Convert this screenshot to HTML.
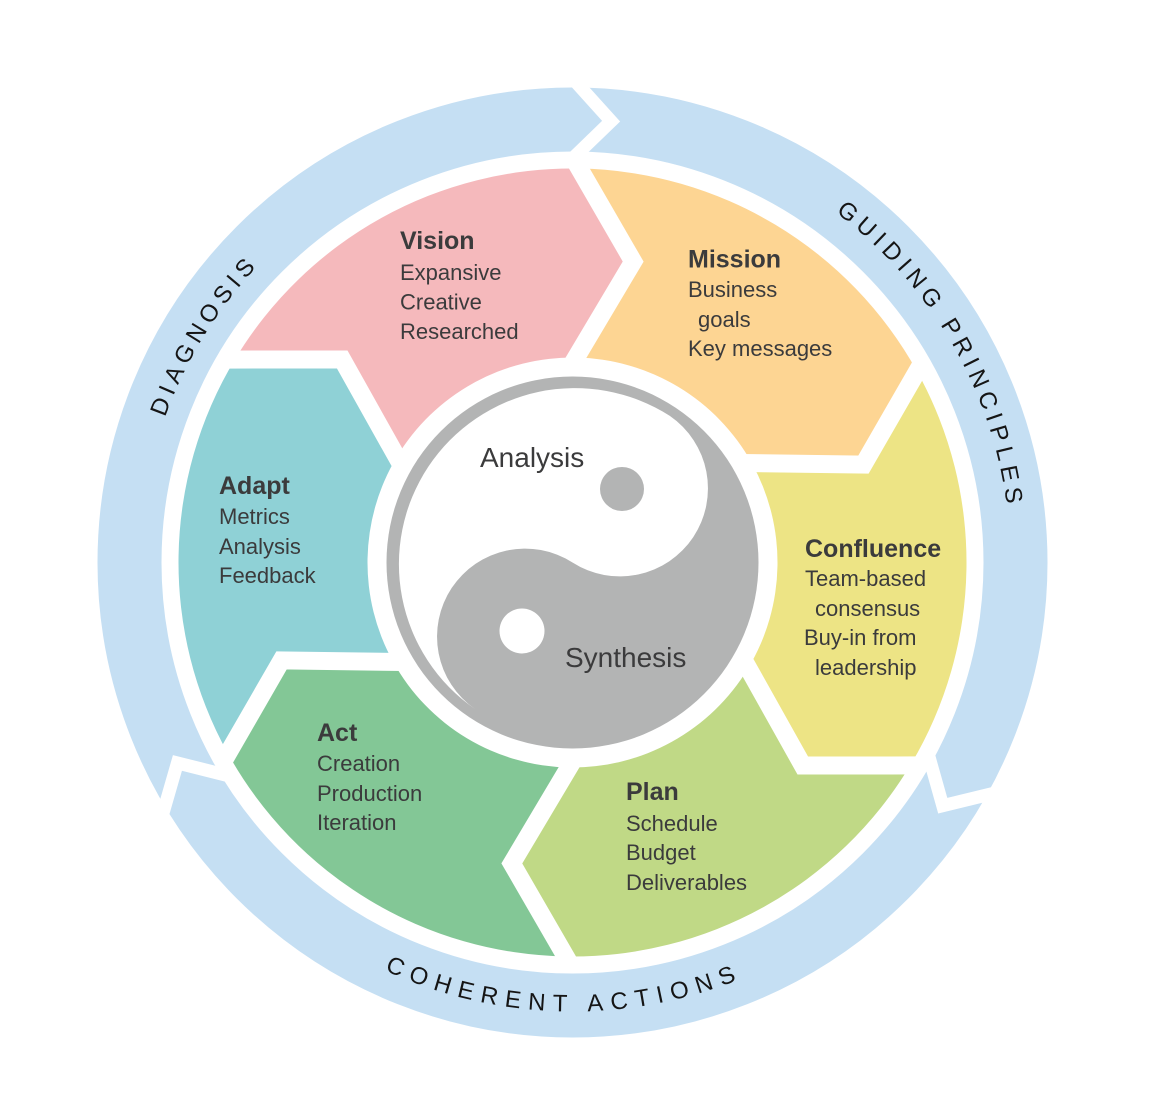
<!DOCTYPE html>
<html>
<head>
<meta charset="utf-8">
<style>
  html,body{margin:0;padding:0;background:#fff;}
  svg{display:block;}
  .t{font-family:"Liberation Sans",Arial,sans-serif;fill:#3b3b3c;}
  .h{font-weight:bold;font-size:25px;}
  .b{font-size:22px;}
  .r{font-family:"Liberation Sans",Arial,sans-serif;font-size:24px;fill:#151515;}
</style>
</head>
<body>
<svg width="1174" height="1096" viewBox="0 0 1174 1096" xmlns="http://www.w3.org/2000/svg">
  <rect width="1174" height="1096" fill="#ffffff"/>
  <defs>
    <path id="pDiag" d="M191.88 767.92 A432.5 432.5 0 0 1 584.95 130.18"/>
    <path id="pGuide" d="M572.5 124.5 A438 438 0 0 1 951.82 781.5"/>
    <path id="pCoh" d="M179.23 779.16 A449 449 0 0 0 956.76 794.76"/>
  </defs>

  <!-- outer ring -->
  <circle cx="572.5" cy="562.5" r="443" fill="none" stroke="#c5dff3" stroke-width="64"/>
  <g fill="none" stroke="#ffffff" stroke-width="13" stroke-linejoin="miter" stroke-miterlimit="10">
    <polyline points="570.74,76.43 611.11,121.19 573.92,157.12"/>
    <polyline points="570.74,76.43 611.11,121.19 573.92,157.12" transform="rotate(118.3 572.5 562.5)"/>
    <polyline points="570.74,76.43 611.11,121.19 573.92,157.12" transform="rotate(238.1 572.5 562.5)"/>
  </g>

  <!-- ring labels -->
  <text class="r" letter-spacing="5.4"><textPath href="#pDiag" startOffset="50%" text-anchor="middle">DIAGNOSIS</textPath></text>
  <text class="r" letter-spacing="5.6"><textPath href="#pGuide" startOffset="50%" text-anchor="middle">GUIDING PRINCIPLES</textPath></text>
  <text class="r" letter-spacing="7.7"><textPath href="#pCoh" startOffset="50%" text-anchor="middle">COHERENT ACTIONS</textPath></text>

  <!-- segments -->
  <g>
    <path fill="#fdd593" d="M579.38 168.56 A394 394 0 0 1 917.10 371.49 L863.46 464.58 L751.80 463.11 A205 205 0 0 0 576.08 357.53 L633.18 261.56 Z"/>
    <path fill="#ede485" transform="rotate(60 572.5 562.5)" d="M579.38 168.56 A394 394 0 0 1 917.10 371.49 L863.46 464.58 L751.80 463.11 A205 205 0 0 0 576.08 357.53 L633.18 261.56 Z"/>
    <path fill="#c0d986" transform="rotate(120 572.5 562.5)" d="M579.38 168.56 A394 394 0 0 1 917.10 371.49 L863.46 464.58 L751.80 463.11 A205 205 0 0 0 576.08 357.53 L633.18 261.56 Z"/>
    <path fill="#83c796" transform="rotate(180 572.5 562.5)" d="M579.38 168.56 A394 394 0 0 1 917.10 371.49 L863.46 464.58 L751.80 463.11 A205 205 0 0 0 576.08 357.53 L633.18 261.56 Z"/>
    <path fill="#8fd1d6" transform="rotate(240 572.5 562.5)" d="M579.38 168.56 A394 394 0 0 1 917.10 371.49 L863.46 464.58 L751.80 463.11 A205 205 0 0 0 576.08 357.53 L633.18 261.56 Z"/>
    <path fill="#f5b9bc" transform="rotate(300 572.5 562.5)" d="M579.38 168.56 A394 394 0 0 1 917.10 371.49 L863.46 464.58 L751.80 463.11 A205 205 0 0 0 576.08 357.53 L633.18 261.56 Z"/>
  </g>
  <g fill="none" stroke="#ffffff" stroke-width="18" stroke-linejoin="miter" stroke-miterlimit="10">
    <polyline points="573.37,158.17 633.18,261.56 570.97,366.12"/>
    <polyline points="573.37,158.17 633.18,261.56 570.97,366.12" transform="rotate(60 572.5 562.5)"/>
    <polyline points="573.37,158.17 633.18,261.56 570.97,366.12" transform="rotate(120 572.5 562.5)"/>
    <polyline points="573.37,158.17 633.18,261.56 570.97,366.12" transform="rotate(180 572.5 562.5)"/>
    <polyline points="573.37,158.17 633.18,261.56 570.97,366.12" transform="rotate(240 572.5 562.5)"/>
    <polyline points="573.37,158.17 633.18,261.56 570.97,366.12" transform="rotate(300 572.5 562.5)"/>
  </g>

  <!-- yin yang -->
  <circle cx="572.5" cy="562.5" r="186" fill="#b3b4b4"/>
  <path fill="#ffffff" d="M669.83 415.89 A176 176 0 0 0 475.17 709.11 A88 88 0 0 1 572.5 562.5 A88 88 0 0 0 669.83 415.89 Z"/>
  <circle cx="622" cy="489" r="22" fill="#b3b4b4"/>
  <circle cx="522" cy="631" r="22.5" fill="#ffffff"/>
  <text class="t" x="480" y="467" font-size="28">Analysis</text>
  <text class="t" x="565" y="667" font-size="28">Synthesis</text>

  <!-- Vision -->
  <text class="t h" x="400" y="249">Vision</text>
  <text class="t b" x="400" y="280">Expansive</text>
  <text class="t b" x="400" y="309.5">Creative</text>
  <text class="t b" x="400" y="339">Researched</text>

  <!-- Mission -->
  <text class="t h" x="688" y="267.5">Mission</text>
  <text class="t b" x="688" y="297">Business</text>
  <text class="t b" x="698" y="327">goals</text>
  <text class="t b" x="688" y="356">Key messages</text>

  <!-- Confluence -->
  <text class="t h" x="805" y="557">Confluence</text>
  <text class="t b" x="805" y="586">Team-based</text>
  <text class="t b" x="815" y="616">consensus</text>
  <text class="t b" x="804" y="645">Buy-in from</text>
  <text class="t b" x="815" y="675">leadership</text>

  <!-- Adapt -->
  <text class="t h" x="219" y="494">Adapt</text>
  <text class="t b" x="219" y="524">Metrics</text>
  <text class="t b" x="219" y="554">Analysis</text>
  <text class="t b" x="219" y="583">Feedback</text>

  <!-- Act -->
  <text class="t h" x="317" y="741">Act</text>
  <text class="t b" x="317" y="771">Creation</text>
  <text class="t b" x="317" y="801">Production</text>
  <text class="t b" x="317" y="830">Iteration</text>

  <!-- Plan -->
  <text class="t h" x="626" y="800">Plan</text>
  <text class="t b" x="626" y="831">Schedule</text>
  <text class="t b" x="626" y="860">Budget</text>
  <text class="t b" x="626" y="890">Deliverables</text>
</svg>
</body>
</html>
